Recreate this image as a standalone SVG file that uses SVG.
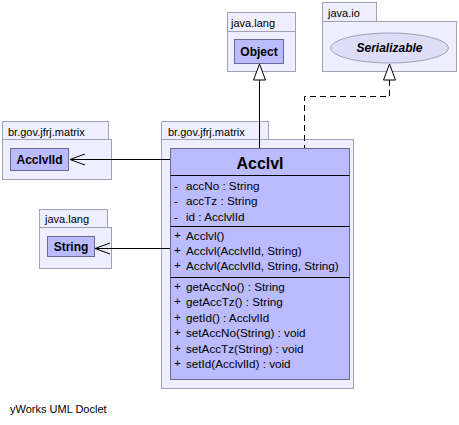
<svg xmlns="http://www.w3.org/2000/svg" width="459" height="425" viewBox="0 0 459 425">
<style>
.pkg{fill:#eeeeff;stroke:#a0a0b8;stroke-width:1}
.cls{fill:#bbbbff;stroke:#6a6a90;stroke-width:1}
.t{font-family:"Liberation Sans",Arial,sans-serif;font-size:11px;fill:#000}
.m{font-family:"Liberation Sans",Arial,sans-serif;font-size:11.7px;fill:#000}
.b{font-family:"Liberation Sans",Arial,sans-serif;font-size:12px;font-weight:bold;fill:#000}
.ln{stroke:#000;stroke-width:1;fill:none}
</style>
<rect width="459" height="425" fill="#fff"/>
<g id="pkg-object">
<rect class="pkg" x="227.5" y="12.5" width="68" height="19"/>
<rect class="pkg" x="227.5" y="31.5" width="68" height="40"/>
<text class="t" x="231" y="27">java.lang</text>
<rect class="cls" x="234.5" y="39.5" width="49" height="24"/>
<text class="b" x="259" y="56" text-anchor="middle">Object</text>
</g>
<g id="pkg-serializable">
<rect class="pkg" x="322.5" y="2.5" width="54" height="19"/>
<rect class="pkg" x="322.5" y="21.5" width="134" height="50"/>
<text class="t" x="328" y="17">java.io</text>
<ellipse cx="389.5" cy="48" rx="59" ry="15" fill="#ddddf8" stroke="#a0a0b8"/>
<text class="b" x="389.5" y="52" text-anchor="middle" font-style="italic">Serializable</text>
</g>
<g id="pkg-acclvlid">
<rect class="pkg" x="2.5" y="121.5" width="106" height="18"/>
<rect class="pkg" x="2.5" y="139.5" width="109" height="40"/>
<text class="t" x="8" y="136">br.gov.jfrj.matrix</text>
<rect class="cls" x="10.5" y="148.5" width="58" height="22"/>
<text class="b" x="39.5" y="164" text-anchor="middle">AcclvlId</text>
</g>
<g id="pkg-string">
<rect class="pkg" x="39.5" y="209.5" width="68" height="18"/>
<rect class="pkg" x="39.5" y="227.5" width="72" height="41"/>
<text class="t" x="45" y="223">java.lang</text>
<rect class="cls" x="47.5" y="236.5" width="47" height="20"/>
<text class="b" x="71" y="251" text-anchor="middle">String</text>
</g>
<g id="pkg-acclvl">
<rect class="pkg" x="161.5" y="121.5" width="107" height="18"/>
<rect class="pkg" x="161.5" y="139.5" width="192" height="249"/>
<text class="t" x="168" y="136">br.gov.jfrj.matrix</text>
</g>
<g id="acclvl">
<rect class="cls" x="170.5" y="148.5" width="179" height="231"/>
<text x="260" y="169" text-anchor="middle" font-family="Liberation Sans,Arial,sans-serif" font-size="16" font-weight="bold">Acclvl</text>
<line class="ln" x1="170.5" y1="175.5" x2="349.5" y2="175.5"/>
<text class="m" x="174" y="190">-</text><text class="m" x="186" y="190">accNo : String</text>
<text class="m" x="174" y="205">-</text><text class="m" x="186" y="205">accTz : String</text>
<text class="m" x="174" y="221">-</text><text class="m" x="186" y="221">id : AcclvlId</text>
<line class="ln" x1="170.5" y1="226.5" x2="349.5" y2="226.5"/>
<text class="m" x="174" y="239">+</text><text class="m" x="186" y="240">Acclvl()</text>
<text class="m" x="174" y="254">+</text><text class="m" x="186" y="255">Acclvl(AcclvlId, String)</text>
<text class="m" x="174" y="269">+</text><text class="m" x="186" y="270">Acclvl(AcclvlId, String, String)</text>
<line class="ln" x1="170.5" y1="277.5" x2="349.5" y2="277.5"/>
<text class="m" x="174" y="290">+</text><text class="m" x="186" y="291">getAccNo() : String</text>
<text class="m" x="174" y="305">+</text><text class="m" x="186" y="306">getAccTz() : String</text>
<text class="m" x="174" y="321">+</text><text class="m" x="186" y="322">getId() : AcclvlId</text>
<text class="m" x="174" y="336">+</text><text class="m" x="186" y="337">setAccNo(String) : void</text>
<text class="m" x="174" y="352">+</text><text class="m" x="186" y="353">setAccTz(String) : void</text>
<text class="m" x="174" y="367">+</text><text class="m" x="186" y="368">setId(AcclvlId) : void</text>
</g>
<g id="connectors">
<line class="ln" x1="259.5" y1="80" x2="259.5" y2="148"/>
<polygon points="259.5,64 253.5,80 265.5,80" fill="#fff" stroke="#000"/>
<polyline class="ln" points="389.5,80 389.5,96.5 304.5,96.5 304.5,148" stroke-dasharray="6,4"/>
<polygon points="389.5,64 383.5,80 395.5,80" fill="#fff" stroke="#000"/>
<line class="ln" x1="170" y1="159.5" x2="70" y2="159.5"/>
<polyline class="ln" points="85,154 70,159.5 85,165"/>
<line class="ln" x1="170" y1="248.5" x2="95" y2="248.5"/>
<polyline class="ln" points="110,243 95,248.5 110,254"/>
</g>
<text class="t" x="10" y="413">yWorks UML Doclet</text>
</svg>
